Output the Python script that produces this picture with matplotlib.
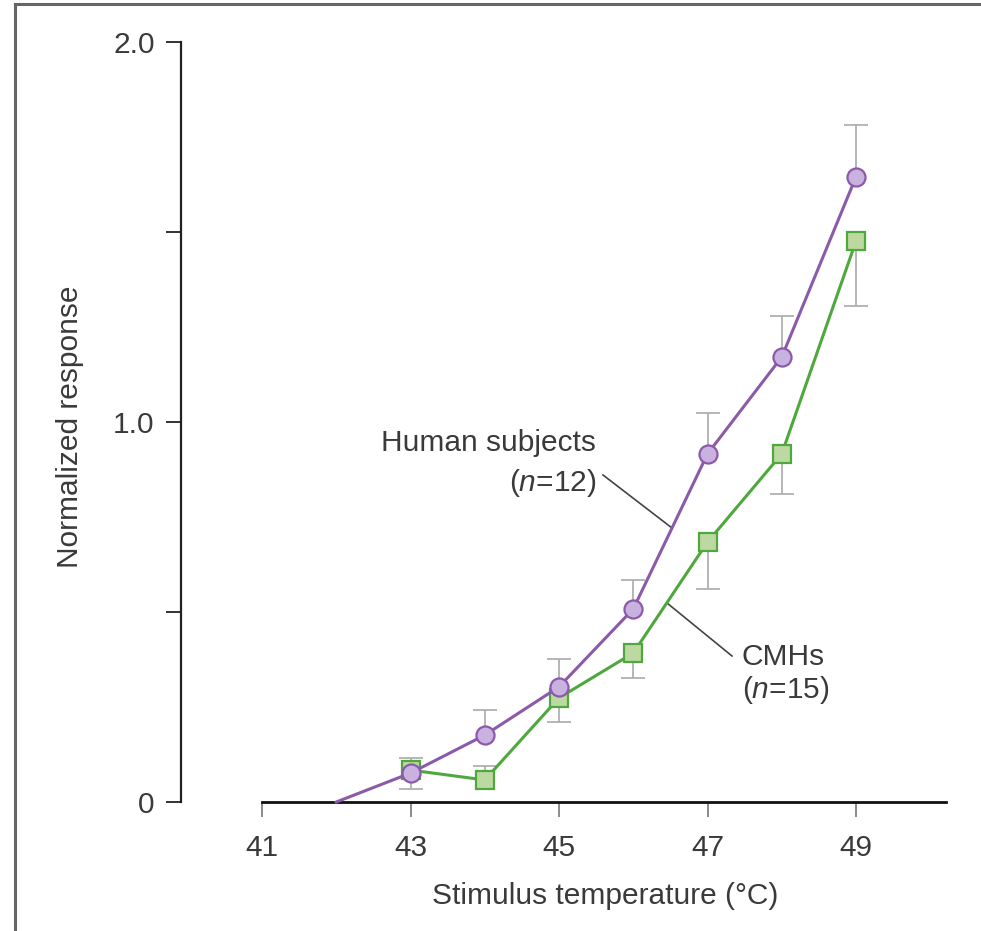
import matplotlib
matplotlib.use("Agg")
import matplotlib.pyplot as plt
from matplotlib.lines import Line2D

plt.rcParams['font.family'] = ['Liberation Sans', 'DejaVu Sans']
plt.rcParams['mathtext.fontset'] = 'custom'
plt.rcParams['mathtext.it'] = 'Liberation Sans:italic'
plt.rcParams['mathtext.rm'] = 'Liberation Sans'

# ---- data ----
human_x = [42, 43, 44, 45, 46, 47, 48, 49]
human_y = [0.0, 0.076, 0.176, 0.303, 0.508, 0.916, 1.171, 1.645]
human_err_up = [0.0, 0.039, 0.066, 0.074, 0.076, 0.108, 0.108, 0.137]
human_err_dn = [0.0, 0.0, 0.0, 0.0, 0.0, 0.0, 0.0, 0.0]

cmh_x = [43, 44, 45, 46, 47, 48, 49]
cmh_y = [0.084, 0.058, 0.274, 0.392, 0.684, 0.916, 1.476]
cmh_err_up = [0.0, 0.037, 0.0, 0.0, 0.0, 0.0, 0.0]
cmh_err_dn = [0.05, 0.0, 0.063, 0.066, 0.124, 0.105, 0.171]

x_ticks = [41, 43, 45, 47, 49]
y_ticks = [0, 1, 2]
y_tick_labels = ['0', '1.0', '2.0']
y_minor = [0.5, 1.5]

text_col = '#3a3a3a'
purple = '#8b5aa8'
purple_face = '#c9b2e0'
green = '#4fa83d'
green_face = '#bcd9a2'
err_col = '#b0b0b0'
FS = 21.5

fig = plt.figure(figsize=(9.81, 9.31), dpi=100)
W, H = 981, 931
ax = fig.add_axes([181 / W, 1 - 802 / H, (946 - 181) / W, (802 - 42) / H])

xl, xr = 41 - 81 / 74.25, 49 + 90 / 74.25
ax.set_xlim(xl, xr)
ax.set_ylim(0, 2)


def draw_err(xs, ys, dn, up):
    for x, y, d, u in zip(xs, ys, dn, up):
        for e in (-d, u):
            if e != 0:
                ax.plot([x, x], [y, y + e], color=err_col, lw=1.3, zorder=2,
                        solid_capstyle='butt')
                ax.plot([x], [y + e], marker='_', markersize=17, markeredgewidth=1.3,
                        color=err_col, zorder=2)


draw_err(human_x, human_y, human_err_dn, human_err_up)
draw_err(cmh_x, cmh_y, cmh_err_dn, cmh_err_up)

# lines
ax.plot(cmh_x, cmh_y, color=green, lw=2.2, marker='s', markersize=12.5,
        markerfacecolor=green_face, markeredgecolor=green, markeredgewidth=1.6,
        zorder=3, clip_on=False)
ax.plot(human_x, human_y, color=purple, lw=2.2, zorder=4, clip_on=False)
ax.plot(human_x[1:], human_y[1:], linestyle='none', marker='o', markersize=13,
        markerfacecolor=purple_face, markeredgecolor=purple, markeredgewidth=1.6,
        zorder=5, clip_on=False)

# spines
for s in ['top', 'right']:
    ax.spines[s].set_visible(False)
ax.spines['left'].set_bounds(0, 2)
ax.spines['bottom'].set_bounds(41, xr)
ax.spines['left'].set_linewidth(1.6)
ax.spines['bottom'].set_linewidth(2.0)
ax.spines['left'].set_color('#222222')
ax.spines['bottom'].set_color('#111111')

ax.set_xticks(x_ticks)
ax.set_xticklabels([str(v) for v in x_ticks])
ax.set_yticks(y_ticks)
ax.set_yticklabels(y_tick_labels)
ax.set_yticks(y_minor, minor=True)
ax.tick_params(axis='x', direction='out', length=11, width=1.2, color='#777777',
               pad=12, labelsize=FS, labelcolor=text_col)
ax.tick_params(axis='y', which='both', direction='out', length=11, width=1.4,
               color='#333333', pad=8, labelsize=FS, labelcolor=text_col)

ax.set_xlabel('Stimulus temperature (°C)', fontsize=FS, color=text_col)
ax.set_ylabel('Normalized response', fontsize=FS, color=text_col)
ax.xaxis.set_label_coords((605 - 181) / 765, (802 - 882) / 760)
ax.yaxis.set_label_coords((84 - 181) / 765, (802 - 427) / 760)

# annotations
def px2d(px, py):
    return 41 + (px - 262) / 74.25, (802 - py) / 380

tx, ty = px2d(596, 443)
ax.text(tx, ty, 'Human subjects', ha='right', va='center', fontsize=FS, color=text_col)
tx, ty = px2d(596, 483)
ax.text(tx, ty, '($\\mathit{n}$=12)', ha='right', va='center', fontsize=FS, color=text_col)
x0, y0 = px2d(603, 475)
x1, y1 = px2d(672, 528)
ax.plot([x0, x1], [y0, y1], color='#444444', lw=1.2, zorder=1)

tx, ty = px2d(742, 657)
ax.text(tx, ty, 'CMHs', ha='left', va='center', fontsize=FS, color=text_col)
tx, ty = px2d(742, 690)
ax.text(tx, ty, '($\\mathit{n}$=15)', ha='left', va='center', fontsize=FS, color=text_col)
x0, y0 = px2d(667, 603)
x1, y1 = px2d(732, 656)
ax.plot([x0, x1], [y0, y1], color='#444444', lw=1.2, zorder=1)

# partial frame
fig.add_artist(Line2D([15 / W, 1], [1 - 4 / H, 1 - 4 / H], color='#666666', lw=2.2))
fig.add_artist(Line2D([15 / W, 15 / W], [0, 1 - 4 / H], color='#666666', lw=2.2))

fig.savefig('out.png', dpi=100)
